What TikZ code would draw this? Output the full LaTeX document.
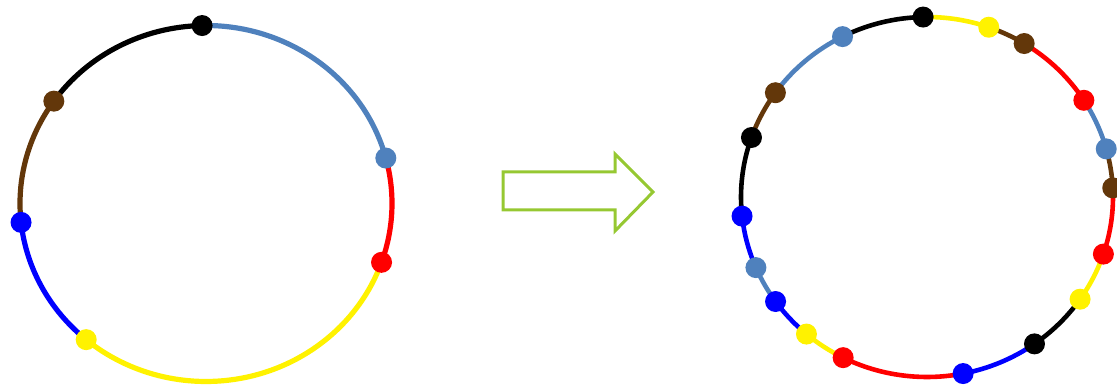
\documentclass[tikz,border=0pt]{standalone}
\begin{document}
\definecolor{sblue}{RGB}{79,129,189}
\definecolor{dbrown}{RGB}{99,55,10}
\definecolor{arrowgreen}{RGB}{150,200,50}
\begin{tikzpicture}[x=1pt,y=1pt,
  ring/.style={line width=#1, line cap=butt},
  arrowline/.style={draw=arrowgreen, line width=3pt, line join=miter}]
\useasboundingbox (0,0) rectangle (1117,390);

% centres of the two rings
\coordinate (L) at (206,186.5);
\coordinate (R) at (927,193);

% left ring: arcs run clockwise, each takes the colour of the dot it ends at
\foreach \a/\b/\c in {91.2/14.8/sblue, 14.8/-19.3/red, -19.3/-130.1/yellow,
    -130.1/-173.9/blue, -173.9/-215.1/dbrown, -215.1/-268.8/black}
  \draw[ring=5.2pt, \c] (L) ++(\a:186pt and 178pt)
    arc[start angle=\a, end angle=\b, x radius=186pt, y radius=178pt];
\foreach \a/\c in {91.2/black, 14.8/sblue, -19.3/red, -130.1/yellow,
    -173.9/blue, -215.1/dbrown}
  \fill[\c] (L) ++(\a:186pt and 178pt) circle[radius=10.5pt];

% right ring
\foreach \a/\b/\c in {91.2/70.6/yellow, 70.6/58.5/dbrown, 58.5/32.5/red,
    32.5/15.5/sblue, 15.5/2.9/dbrown, 2.9/-18.5/red, -18.5/-34.6/yellow,
    -34.6/-54.7/black, -54.7/-78.8/blue, -78.8/-116.8/red,
    -116.8/-130.4/yellow, -130.4/-144.5/blue, -144.5/-156.9/sblue,
    -156.9/-173.9/blue, -173.9/-199.3/black, -199.3/-215.4/dbrown,
    -215.4/-243/sblue, -243/-268.8/black}
  \draw[ring=4.6pt, \c] (R) ++(\a:186pt and 180pt)
    arc[start angle=\a, end angle=\b, x radius=186pt, y radius=180pt];
\foreach \a/\c in {91.2/black, 70.6/yellow, 58.5/dbrown, 32.5/red,
    15.5/sblue, 2.9/dbrown, -18.5/red, -34.6/yellow, -54.7/black,
    -78.8/blue, -116.8/red, -130.4/yellow, -144.5/blue, -156.9/sblue,
    -173.9/blue, -199.3/black, -215.4/dbrown, -243/sblue}
  \fill[\c] (R) ++(\a:186pt and 180pt) circle[radius=10.5pt];

% hollow block arrow between the rings
\draw[arrowline] (503,180) -- (503,218) -- (615,218) -- (615,236)
  -- (653,198) -- (615,159) -- (615,180) -- cycle;
\end{tikzpicture}
\end{document}
